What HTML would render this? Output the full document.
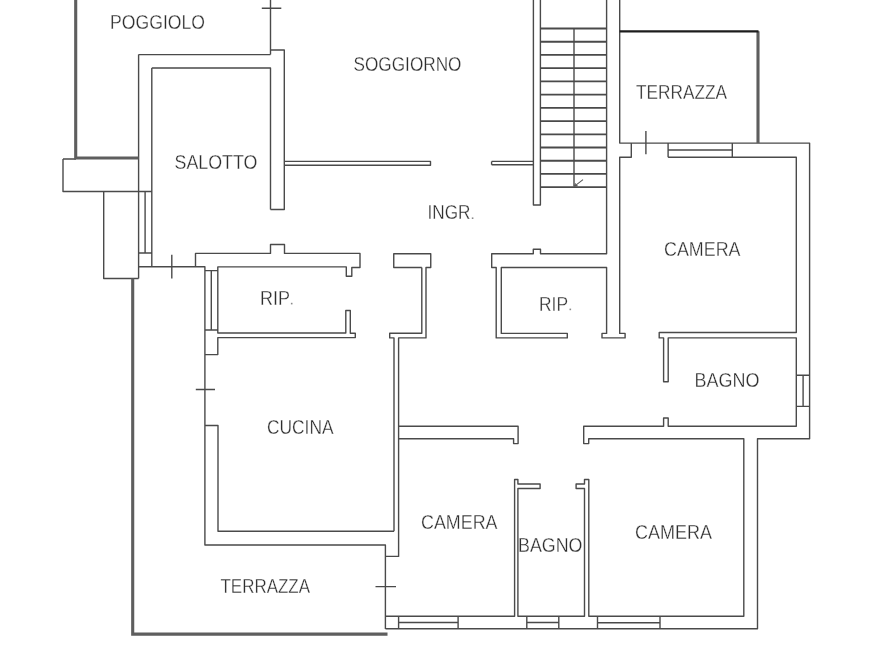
<!DOCTYPE html><html><head><meta charset="utf-8"><style>html,body{margin:0;padding:0;background:#fff;}svg{display:block;-webkit-font-smoothing:antialiased;will-change:transform;}text{font-family:"Liberation Sans",sans-serif;}</style></head><body>
<svg width="893" height="670" viewBox="0 0 893 670">
<rect width="893" height="670" fill="#fff"/>
<path d="M63,159 H76 M63,159 V191.5 H151.8 M103.7,191.5 V278.5 H138.6 M138.6,54.6 V278.5 M138.6,54.6 H270.5 M151.8,68 V266.8 M151.8,68 H270.5 V209.5 M270.5,0 V54.6 M270.5,50 H284.3 V209.5 H270.5 M261.8,8.3 H281.3 M145.1,191.5 V253 M138.6,253 H151.8 M284.3,161.4 H430.5 V165.2 H284.3 M138.6,266.8 H204.9 V270.6 H217.8 V266.9 H346.3 V276.3 H351.8 V267.5 H360 V253.4 H284.5 V244.5 H270.5 V253.4 H195.5 V266.8 M171.8,254.7 V278.5 M204.9,270.6 V545 H385.4 V629 M211.3,270.6 V330 M204.9,330 H217.8 M217.8,270.6 V333 H345.8 V310.5 H350.3 V333.3 H355.3 V337.6 H217.8 V354.6 H204.9 M195.8,389.5 H215 M204.9,425.5 H218 V531.3 H394 M421.8,267.5 H393.75 V253.75 H430.75 V267.5 H426 V337.9 H398.6 V556.4 H385.4 M421.8,267.5 V333.3 H389.7 V337.9 H394 V531.3 M375.5,586.6 H396 M491.6,161.4 H533.4 M491.6,164.8 H533.4 M491.6,161.4 V164.8 M533.4,0 V205 H540.4 V0 M606.6,0 V253.7 H540.5 V249.2 H533.3 V253.7 H491.7 V267.5 H496.2 V337.9 H567.3 V333.4 H501.3 V267.5 H606.6 V333.4 H602 V337.9 H625.1 V333.4 H619.7 V157.3 H631.3 V143.1 M619.7,0 V143.1 H809.6 V438.7 H757.5 V628.7 H385.5 M645.9,131 V154.2 M668.1,143.1 V157.3 M668.1,150 H732.3 M732.3,143.1 V157.3 M668.1,157.3 H796.3 V332.5 H659.2 V337.9 H663.6 V381.7 H668.2 V337.9 H796.3 V426.3 H668.2 V418 H663.6 V426.3 H583.7 V443.6 H588.7 V438.8 H743.8 V616.2 H588.8 V479.5 H584.5 V484 H576.1 V488.5 H584.5 V616.2 H517.9 V488.5 H540.1 V484 H517.9 V479.5 H514.6 V616.2 H385.5 M398.6,426.3 H518.1 V443.6 H513.6 V438.7 H398.6 M398.6,616.2 V628.7 M458.1,616.2 V628.7 M398.6,622.5 H458.1 M526.8,616.2 V628.7 M558.8,616.2 V628.7 M526.8,622.5 H558.8 M597.5,616.2 V628.7 M660,616.2 V628.7 M597.5,622.7 H660 M796.3,375.2 H809.6 M796.3,406.4 H809.6 M803.1,375.2 V406.4" fill="none" stroke="#4a4a4a" stroke-width="1.4" stroke-linejoin="round"/>
<path d="M540.4,28.50 H606.6 M540.4,41.73 H606.6 M540.4,54.95 H606.6 M540.4,68.17 H606.6 M540.4,81.40 H606.6 M540.4,94.62 H606.6 M540.4,107.85 H606.6 M540.4,121.08 H606.6 M540.4,134.30 H606.6 M540.4,147.52 H606.6 M540.4,160.75 H606.6 M540.4,173.97 H606.6 M540.4,187.20 H606.6" fill="none" stroke="#4a4a4a" stroke-width="1.8"/>
<path d="M574,28.5 V186.6" fill="none" stroke="#4a4a4a" stroke-width="1.4"/>
<path d="M574.3,186.4 L583,179.6 M574.3,186.4 L577.6,185.6 M574.3,186.4 L575.6,183.4" fill="none" stroke="#5a5a5a" stroke-width="1.1"/>
<path d="M75.7,0 V158 H138.6 M132.7,278.5 V634.1 H387.5 M758,31.3 V143.1" fill="none" stroke="#5e5e5e" stroke-width="3.1" stroke-linejoin="miter"/>
<path d="M619.7,31.4 H758.5" fill="none" stroke="#1c1c1c" stroke-width="2.2"/>
<text x="110.0" y="29.2" font-size="19.8" fill="#2e2e2e" stroke="#fff" stroke-width="0.3" textLength="95.0" lengthAdjust="spacingAndGlyphs">POGGIOLO</text>
<text x="353.5" y="70.9" font-size="19.8" fill="#2e2e2e" stroke="#fff" stroke-width="0.3" textLength="108.0" lengthAdjust="spacingAndGlyphs">SOGGIORNO</text>
<text x="174.5" y="169.2" font-size="19.8" fill="#2e2e2e" stroke="#fff" stroke-width="0.3" textLength="83.0" lengthAdjust="spacingAndGlyphs">SALOTTO</text>
<text x="427.5" y="219.2" font-size="19.8" fill="#2e2e2e" stroke="#fff" stroke-width="0.3" textLength="43.0" lengthAdjust="spacingAndGlyphs">INGR</text>
<text x="636.0" y="99.2" font-size="19.8" fill="#2e2e2e" stroke="#fff" stroke-width="0.3" textLength="91.0" lengthAdjust="spacingAndGlyphs">TERRAZZA</text>
<text x="664.0" y="255.6" font-size="19.8" fill="#2e2e2e" stroke="#fff" stroke-width="0.3" textLength="76.5" lengthAdjust="spacingAndGlyphs">CAMERA</text>
<text x="260.0" y="304.8" font-size="19.8" fill="#2e2e2e" stroke="#fff" stroke-width="0.3" textLength="30.0" lengthAdjust="spacingAndGlyphs">RIP</text>
<text x="539.0" y="310.5" font-size="19.8" fill="#2e2e2e" stroke="#fff" stroke-width="0.3" textLength="29.0" lengthAdjust="spacingAndGlyphs">RIP</text>
<text x="694.5" y="387.2" font-size="19.8" fill="#2e2e2e" stroke="#fff" stroke-width="0.3" textLength="65.0" lengthAdjust="spacingAndGlyphs">BAGNO</text>
<text x="267.0" y="434.2" font-size="19.8" fill="#2e2e2e" stroke="#fff" stroke-width="0.3" textLength="66.5" lengthAdjust="spacingAndGlyphs">CUCINA</text>
<text x="421.0" y="529.1" font-size="19.8" fill="#2e2e2e" stroke="#fff" stroke-width="0.3" textLength="76.5" lengthAdjust="spacingAndGlyphs">CAMERA</text>
<text x="518.0" y="551.5" font-size="19.8" fill="#2e2e2e" stroke="#fff" stroke-width="0.3" textLength="64.5" lengthAdjust="spacingAndGlyphs">BAGNO</text>
<text x="635.0" y="538.5" font-size="19.8" fill="#2e2e2e" stroke="#fff" stroke-width="0.3" textLength="77.0" lengthAdjust="spacingAndGlyphs">CAMERA</text>
<text x="220.5" y="593.4" font-size="19.8" fill="#2e2e2e" stroke="#fff" stroke-width="0.3" textLength="89.5" lengthAdjust="spacingAndGlyphs">TERRAZZA</text>
<g fill="#8a8a8a"><rect x="471.8" y="217.4" width="1.6" height="1.6"/><rect x="290.9" y="302.8" width="1.6" height="1.6"/><rect x="569.5" y="308.6" width="1.6" height="1.6"/></g>
</svg></body></html>
